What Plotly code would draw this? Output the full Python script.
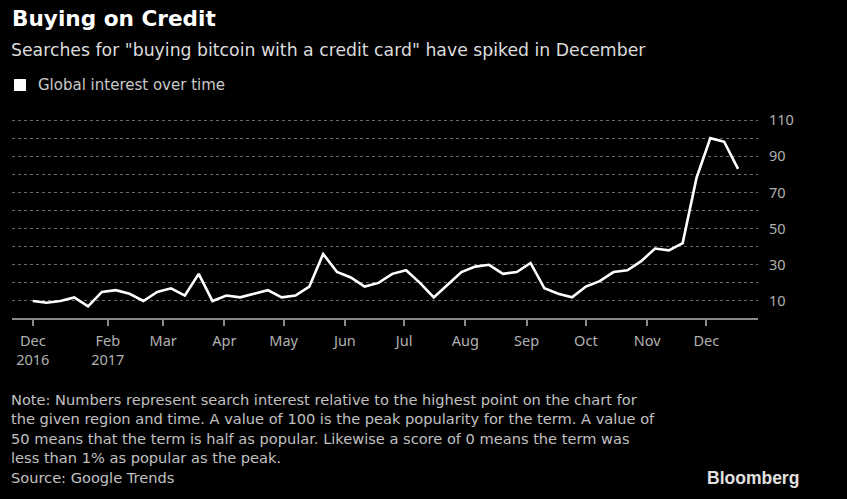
import plotly.graph_objects as go
import pandas as pd

# Weekly Google Trends interest, week starting 2016-12-25 through 2017-12-17
week_start = "2016-12-25"
interest = [10, 9, 10, 12, 7, 15, 16, 14, 10, 15, 17, 13, 25, 10, 13, 12, 14, 16, 12, 13,
            18, 36, 26, 23, 18, 20, 25, 27, 20, 12, 19, 26, 29, 30, 25, 26, 31, 17, 14, 12,
            18, 21, 26, 27, 32, 39, 38, 42, 78, 100, 98, 83]
weeks = pd.date_range(week_start, periods=len(interest), freq="7D")

x_tick_dates = ["2016-12-25", "2017-02-01", "2017-03-01", "2017-04-01", "2017-05-01",
                "2017-06-01", "2017-07-01", "2017-08-01", "2017-09-01", "2017-10-01",
                "2017-11-01", "2017-12-01"]
x_tick_labels = ["Dec<br>2016", "Feb<br>2017", "Mar", "Apr", "May", "Jun", "Jul", "Aug",
                 "Sep", "Oct", "Nov", "Dec"]
y_tick_vals = [10, 20, 30, 40, 50, 60, 70, 80, 90, 100, 110]
y_tick_labels = ["10", "", "30", "", "50", "", "70", "", "90", "", "110"]

title = "Buying on Credit"
subtitle = 'Searches for "buying bitcoin with a credit card" have spiked in December'
legend_label = "Global interest over time"
note_lines = [
    "Note: Numbers represent search interest relative to the highest point on the chart for",
    "the given region and time. A value of 100 is the peak popularity for the term. A value of",
    "50 means that the term is half as popular. Likewise a score of 0 means the term was",
    "less than 1% as popular as the peak.",
    "Source: Google Trends",
]

W, H = 847, 499
ML, MR, MT, MB = 12, 89, 115, 181
PW, PH = W - ML - MR, H - MT - MB
FONT = "Noto Sans"
TEXT_FONT = "DejaVu Sans"

def px(x):
    return (x - ML) / PW

def py(y):
    return (H - MB - y) / PH

fig = go.Figure()
fig.add_trace(go.Scatter(x=weeks, y=interest, mode="lines",
                         line=dict(color="white", width=2.6), showlegend=False,
                         hoverinfo="skip"))

fig.update_layout(
    width=W, height=H,
    paper_bgcolor="black", plot_bgcolor="black",
    margin=dict(l=ML, r=MR, t=MT, b=MB),
    xaxis=dict(
        type="date",
        range=["2016-12-14 12:00", "2017-12-27 03:00"],
        tickvals=x_tick_dates, ticktext=x_tick_labels,
        showgrid=False, zeroline=False,
        showline=True, linecolor="#8a8a8a", linewidth=1.5,
        ticks="outside", ticklen=6, tickcolor="#8a8a8a", tickwidth=1.5,
        tickfont=dict(family=FONT, size=14.5, color="#b0b0b0"),
        ticklabelstandoff=3,
    ),
    yaxis=dict(
        side="right",
        range=[0.6, 112.8],
        tickvals=y_tick_vals, ticktext=y_tick_labels,
        showgrid=True, gridcolor="#6a6a6a", griddash="dot", gridwidth=1,
        zeroline=False, showline=False, ticks="",
        tickfont=dict(family=FONT, size=14.5, color="#b0b0b0"),
        ticklabelstandoff=10,
    ),
)

def ann(text, x, y, size, color, family, bold=False, xanchor="left"):
    t = f"<b>{text}</b>" if bold else text
    fig.add_annotation(text=t, x=px(x), y=py(y), xref="paper", yref="paper",
                       xanchor=xanchor, yanchor="middle", showarrow=False,
                       font=dict(size=size, color=color, family=family))

ann(title, 10, 19, 21.6, "white", "DejaVu Sans", bold=True)
ann(subtitle, 9, 50, 17.3, "#dcdcdc", TEXT_FONT)
ann(legend_label, 36, 85, 15, "#c8c8c8", TEXT_FONT)
fig.add_shape(type="rect", xref="paper", yref="paper",
              x0=px(14), x1=px(26), y0=py(91), y1=py(79),
              fillcolor="white", line=dict(width=0))

for i, line in enumerate(note_lines):
    ann(line, 9, 399 + i * 19.6, 14.6, "#c0c0c0", TEXT_FONT)

ann("Bloomberg", 801, 478, 17.5, "#e0e0e0", "Liberation Sans", bold=True, xanchor="right")

fig.write_html("out.html", config={"displayModeBar": False},
               post_script="document.body.style.margin='0';")
